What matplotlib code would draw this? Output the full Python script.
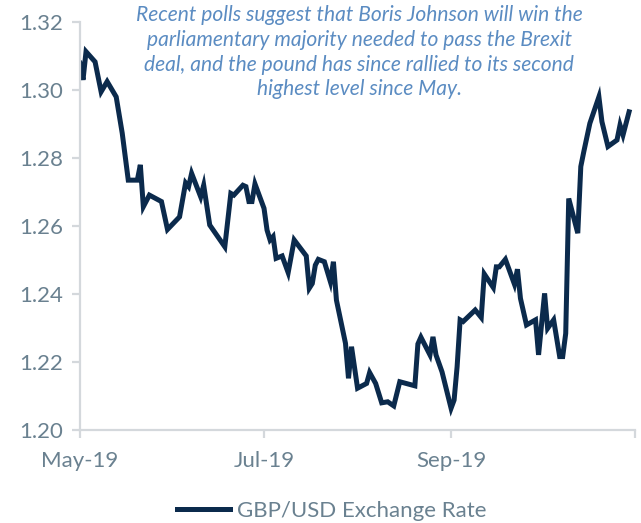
import matplotlib
matplotlib.use("Agg")
import matplotlib.pyplot as plt
import pandas as pd

# GBP/USD daily rate
dates = ["2019-05-01", "2019-05-02", "2019-05-03", "2019-05-06", "2019-05-08", "2019-05-10",
         "2019-05-13", "2019-05-15", "2019-05-17", "2019-05-20", "2019-05-21", "2019-05-22",
         "2019-05-24", "2019-05-28", "2019-05-30", "2019-06-03", "2019-06-05", "2019-06-06",
         "2019-06-07", "2019-06-10", "2019-06-11", "2019-06-13", "2019-06-18", "2019-06-20",
         "2019-06-21", "2019-06-24", "2019-06-25", "2019-06-26", "2019-06-27", "2019-06-28",
         "2019-07-01", "2019-07-02", "2019-07-03", "2019-07-04", "2019-07-05", "2019-07-07",
         "2019-07-09", "2019-07-11", "2019-07-15", "2019-07-16", "2019-07-17", "2019-07-18",
         "2019-07-19", "2019-07-21", "2019-07-23", "2019-07-24", "2019-07-25", "2019-07-28",
         "2019-07-29", "2019-07-30", "2019-08-01", "2019-08-04", "2019-08-05", "2019-08-07",
         "2019-08-09", "2019-08-11", "2019-08-13", "2019-08-15", "2019-08-20", "2019-08-21",
         "2019-08-22", "2019-08-25", "2019-08-26", "2019-08-27", "2019-08-28", "2019-08-29",
         "2019-09-01", "2019-09-02", "2019-09-03", "2019-09-04", "2019-09-05", "2019-09-09",
         "2019-09-11", "2019-09-12", "2019-09-15", "2019-09-16", "2019-09-17", "2019-09-19",
         "2019-09-22", "2019-09-23", "2019-09-24", "2019-09-26", "2019-09-29", "2019-09-30",
         "2019-10-02", "2019-10-03", "2019-10-05", "2019-10-07", "2019-10-08", "2019-10-09",
         "2019-10-10", "2019-10-13", "2019-10-14", "2019-10-15", "2019-10-17", "2019-10-20",
         "2019-10-21", "2019-10-23", "2019-10-26", "2019-10-27", "2019-10-28", "2019-10-30"]
rate = [1.3079, 1.3030, 1.3113, 1.3083, 1.2995, 1.3025,
        1.2980, 1.2873, 1.2735, 1.2735, 1.2780, 1.2657,
        1.2691, 1.2672, 1.2590, 1.2627, 1.2727, 1.2716,
        1.2755, 1.2686, 1.2720, 1.2603, 1.2539, 1.2696,
        1.2691, 1.2720, 1.2716, 1.2672, 1.2672, 1.2724,
        1.2652, 1.2588, 1.2559, 1.2569, 1.2505, 1.2512,
        1.2463, 1.2559, 1.2512, 1.2417, 1.2431, 1.2485,
        1.2502, 1.2495, 1.2436, 1.2495, 1.2382, 1.2255,
        1.2152, 1.2245, 1.2123, 1.2137, 1.2169, 1.2137,
        1.2080, 1.2083, 1.2071, 1.2142, 1.2130, 1.2253,
        1.2273, 1.2221, 1.2274, 1.2221, 1.2196, 1.2171,
        1.2064, 1.2088, 1.2186, 1.2324, 1.2319, 1.2353,
        1.2331, 1.2459, 1.2419, 1.2480, 1.2480, 1.2502,
        1.2429, 1.2473, 1.2387, 1.2309, 1.2324, 1.2221,
        1.2402, 1.2299, 1.2324, 1.2216, 1.2216, 1.2284,
        1.2681, 1.2579, 1.2775, 1.2819, 1.2902, 1.2980,
        1.2907, 1.2834, 1.2853, 1.2897, 1.2868, 1.2936]

xticks = ["2019-05-01", "2019-07-01", "2019-09-01", "2019-11-01"]
xticklabels = ["May-19", "Jul-19", "Sep-19", ""]
yticks = [1.20, 1.22, 1.24, 1.26, 1.28, 1.30, 1.32]

note = ("Recent polls suggest that Boris Johnson will win the\n"
        "parliamentary majority needed to pass the Brexit\n"
        "deal, and the pound has since rallied to its second\n"
        "highest level since May.")

plt.rcParams['font.family'] = ['Lato', 'DejaVu Sans']
navy = '#0b2a4c'
label_col = '#6a8190'
grid_col = '#d4d8dc'

fig = plt.figure(figsize=(6.41, 5.23), dpi=100)
ax = fig.add_axes([0.1248, 0.1778, 0.866, 0.780])

x = pd.to_datetime(dates)
ax.plot(x, rate, color=navy, linewidth=3.6, solid_joinstyle='miter',
        label='GBP/USD Exchange Rate')

ax.set_xlim(pd.Timestamp("2019-05-01"), pd.Timestamp("2019-11-01"))
ax.set_ylim(1.20, 1.32)
ax.set_xticks(pd.to_datetime(xticks))
ax.set_xticklabels(xticklabels)
ax.set_yticks(yticks)
ax.set_yticklabels([f"{v:.2f}" for v in yticks])

for s in ['top', 'right']:
    ax.spines[s].set_visible(False)
for s in ['left', 'bottom']:
    ax.spines[s].set_color(grid_col)
    ax.spines[s].set_linewidth(1.6)
ax.tick_params(axis='both', colors=grid_col, width=1.6, length=6,
               labelcolor=label_col, labelsize=16)
ax.tick_params(axis='x', pad=9)
ax.tick_params(axis='y', pad=6)

ax.text(0.503, 1.042, note, transform=ax.transAxes, ha='center', va='top',
        fontsize=15.1, style='italic', color='#5b8cc2', linespacing=1.3)

leg = ax.legend(loc='upper center', bbox_to_anchor=(0.453, -0.125), frameon=False,
                fontsize=16, handlelength=2.4, handletextpad=0.3)
for t in leg.get_texts():
    t.set_color(label_col)

fig.savefig("out.png", dpi=100)
